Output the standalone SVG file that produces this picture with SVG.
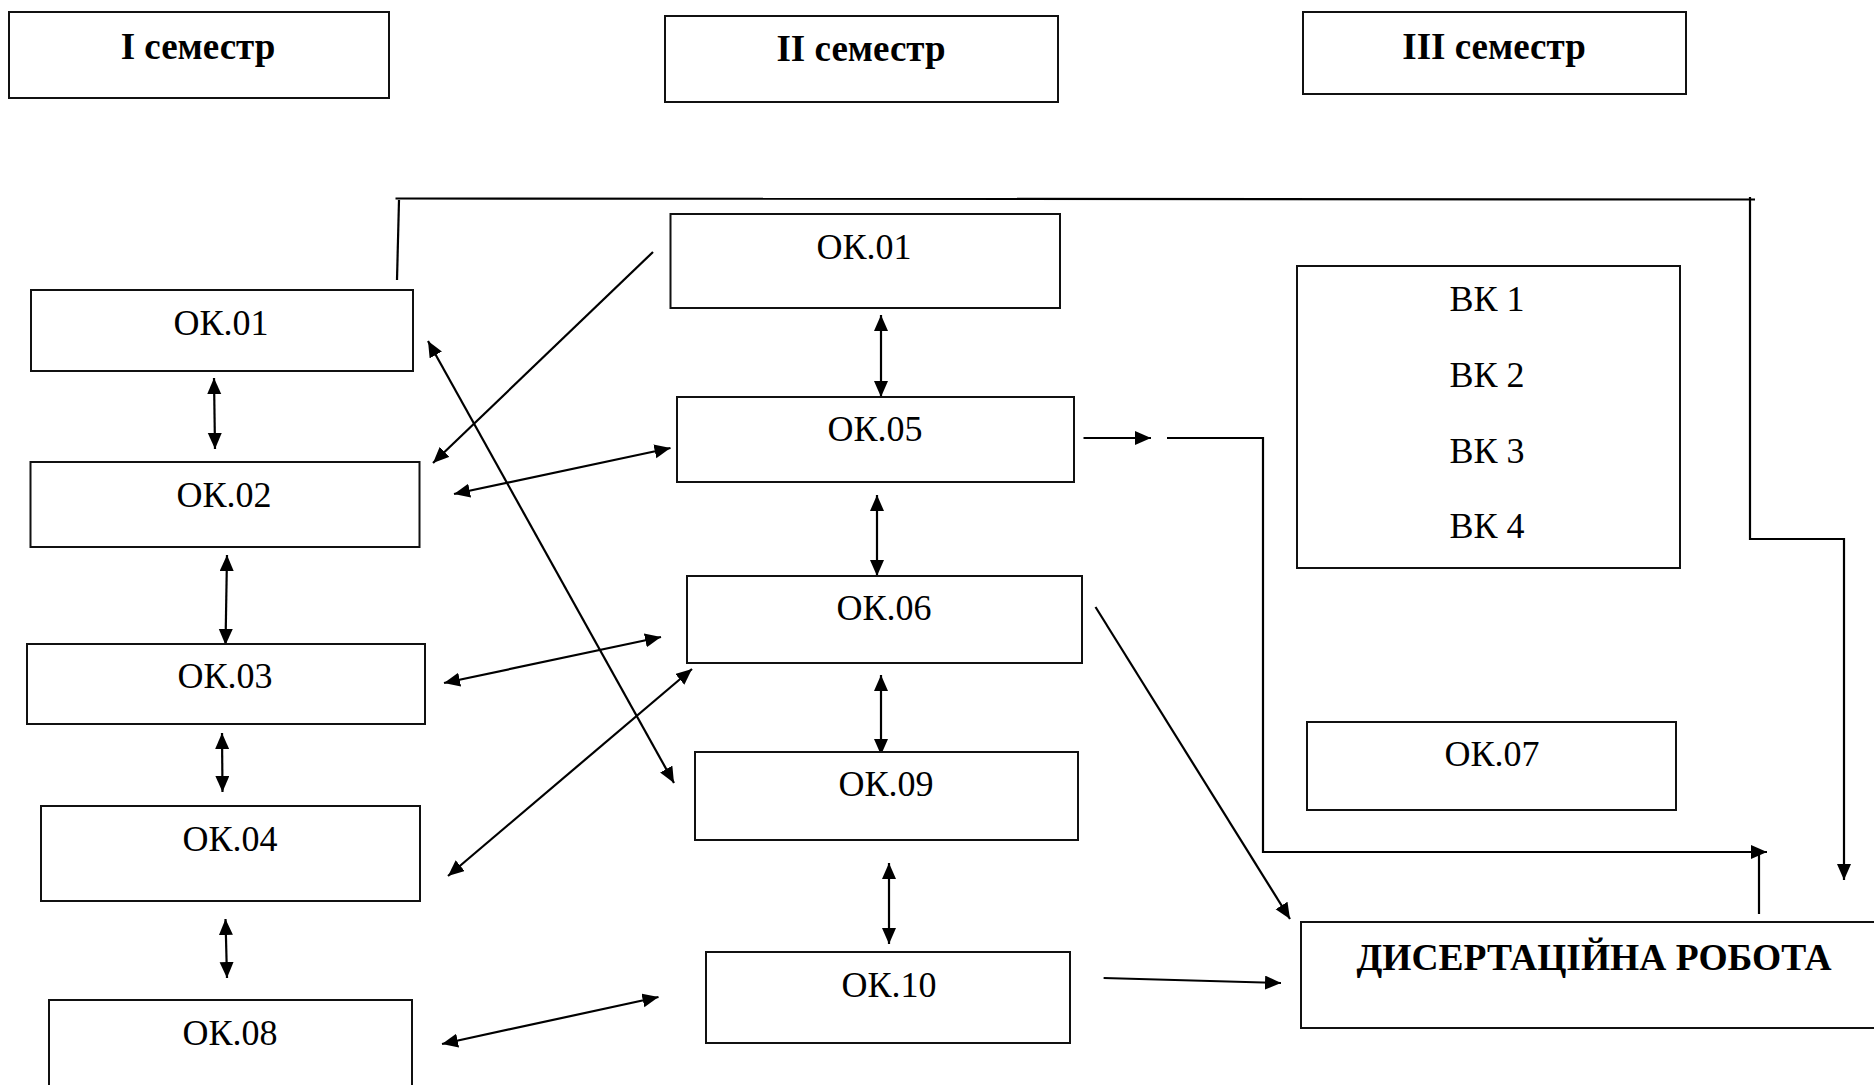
<svg xmlns="http://www.w3.org/2000/svg" width="1874" height="1085" viewBox="0 0 1874 1085">
<style>
.box{fill:#fff;stroke:#111;stroke-width:2}
.t{font-family:"Liberation Serif","Times New Roman",serif;font-size:36px;text-anchor:middle;fill:#000}
.b{font-weight:bold;font-size:37px}
.d{font-size:37.5px}
.c{fill:none;stroke:#000;stroke-width:2.2}
.a{marker-end:url(#ah)}
.aa{marker-start:url(#ah);marker-end:url(#ah)}
</style>
<defs>
<marker id="ah" markerUnits="userSpaceOnUse" markerWidth="17" markerHeight="15" refX="16" refY="7" orient="auto-start-reverse" viewBox="0 0 17 15">
<path d="M0,0 L16,7 L0,14 z" fill="#000"/>
</marker>
</defs>
<rect width="1874" height="1085" fill="#fff"/>
<g id="connectors">
<line class="c" x1="395.5" y1="198.5" x2="1755" y2="199.5"/>
<line class="c" x1="399" y1="200" x2="397" y2="280"/>
<path class="c a" d="M1750,197 L1750,539 L1844,539 L1844,880"/>
<line class="c a" x1="653" y1="252" x2="433" y2="463"/>
<line class="c aa" x1="428" y1="341" x2="674" y2="783"/>
<line class="c aa" x1="214" y1="378" x2="215" y2="449"/>
<line class="c aa" x1="454" y1="494" x2="670.5" y2="448"/>
<line class="c aa" x1="227" y1="555" x2="225.5" y2="645"/>
<line class="c aa" x1="444" y1="683" x2="661" y2="637"/>
<line class="c aa" x1="222" y1="733" x2="222.5" y2="792"/>
<line class="c aa" x1="448" y1="876" x2="692" y2="669"/>
<line class="c aa" x1="225.5" y1="919" x2="227" y2="978"/>
<line class="c aa" x1="442" y1="1044" x2="658.5" y2="997"/>
<line class="c aa" x1="881" y1="315" x2="881" y2="397"/>
<line class="c aa" x1="877" y1="495" x2="877" y2="576"/>
<line class="c aa" x1="881" y1="675" x2="881" y2="755"/>
<line class="c aa" x1="889" y1="863" x2="889" y2="944"/>
<line class="c a" x1="1083.5" y1="438" x2="1151" y2="438"/>
<path class="c a" d="M1167,438 L1263,438 L1263,852 L1767,852"/>
<line class="c" x1="1759" y1="914" x2="1759" y2="852"/>
<line class="c a" x1="1095.5" y1="607" x2="1290" y2="919"/>
<line class="c a" x1="1103.6" y1="978" x2="1281" y2="983"/>
</g>
<g id="sem1"><rect class="box" x="9" y="12" width="380" height="86"/><text class="t b" x="198" y="59">I семестр</text></g>
<g id="sem2"><rect class="box" x="665" y="16" width="393" height="86"/><text class="t b" x="861" y="61">II семестр</text></g>
<g id="sem3"><rect class="box" x="1303" y="12" width="383" height="82"/><text class="t b" x="1494" y="59">III семестр</text></g>
<g id="ok01a"><rect class="box" x="31" y="290" width="382" height="81"/><text class="t" x="221" y="335">ОК.01</text></g>
<g id="ok02"><rect class="box" x="30.5" y="462" width="389" height="85"/><text class="t" x="224" y="507">ОК.02</text></g>
<g id="ok03"><rect class="box" x="27" y="644" width="398" height="80"/><text class="t" x="225" y="688">ОК.03</text></g>
<g id="ok04"><rect class="box" x="41" y="806" width="379" height="95"/><text class="t" x="230" y="851">ОК.04</text></g>
<g id="ok08"><rect class="box" x="49" y="1000" width="363" height="100"/><text class="t" x="230" y="1045">ОК.08</text></g>
<g id="ok01b"><rect class="box" x="670.5" y="214" width="389.5" height="94"/><text class="t" x="864" y="259">ОК.01</text></g>
<g id="ok05"><rect class="box" x="677" y="397" width="397" height="85"/><text class="t" x="875" y="441">ОК.05</text></g>
<g id="ok06"><rect class="box" x="687" y="576" width="395" height="87"/><text class="t" x="884" y="620">ОК.06</text></g>
<g id="ok09"><rect class="box" x="695" y="752" width="383" height="88"/><text class="t" x="886" y="796">ОК.09</text></g>
<g id="ok10"><rect class="box" x="706" y="952" width="364" height="91"/><text class="t" x="889" y="997">ОК.10</text></g>
<g id="vk"><rect class="box" x="1297" y="266" width="383" height="302"/>
<text class="t" x="1487" y="311">ВК 1</text><text class="t" x="1487" y="387">ВК 2</text><text class="t" x="1487" y="463">ВК 3</text><text class="t" x="1487" y="538">ВК 4</text></g>
<g id="ok07"><rect class="box" x="1307" y="722" width="369" height="88"/><text class="t" x="1492" y="766">ОК.07</text></g>
<g id="dis"><rect class="box" x="1301" y="922" width="590" height="106"/><text class="t b d" x="1594" y="970">ДИСЕРТАЦІЙНА РОБОТА</text></g>
</svg>
